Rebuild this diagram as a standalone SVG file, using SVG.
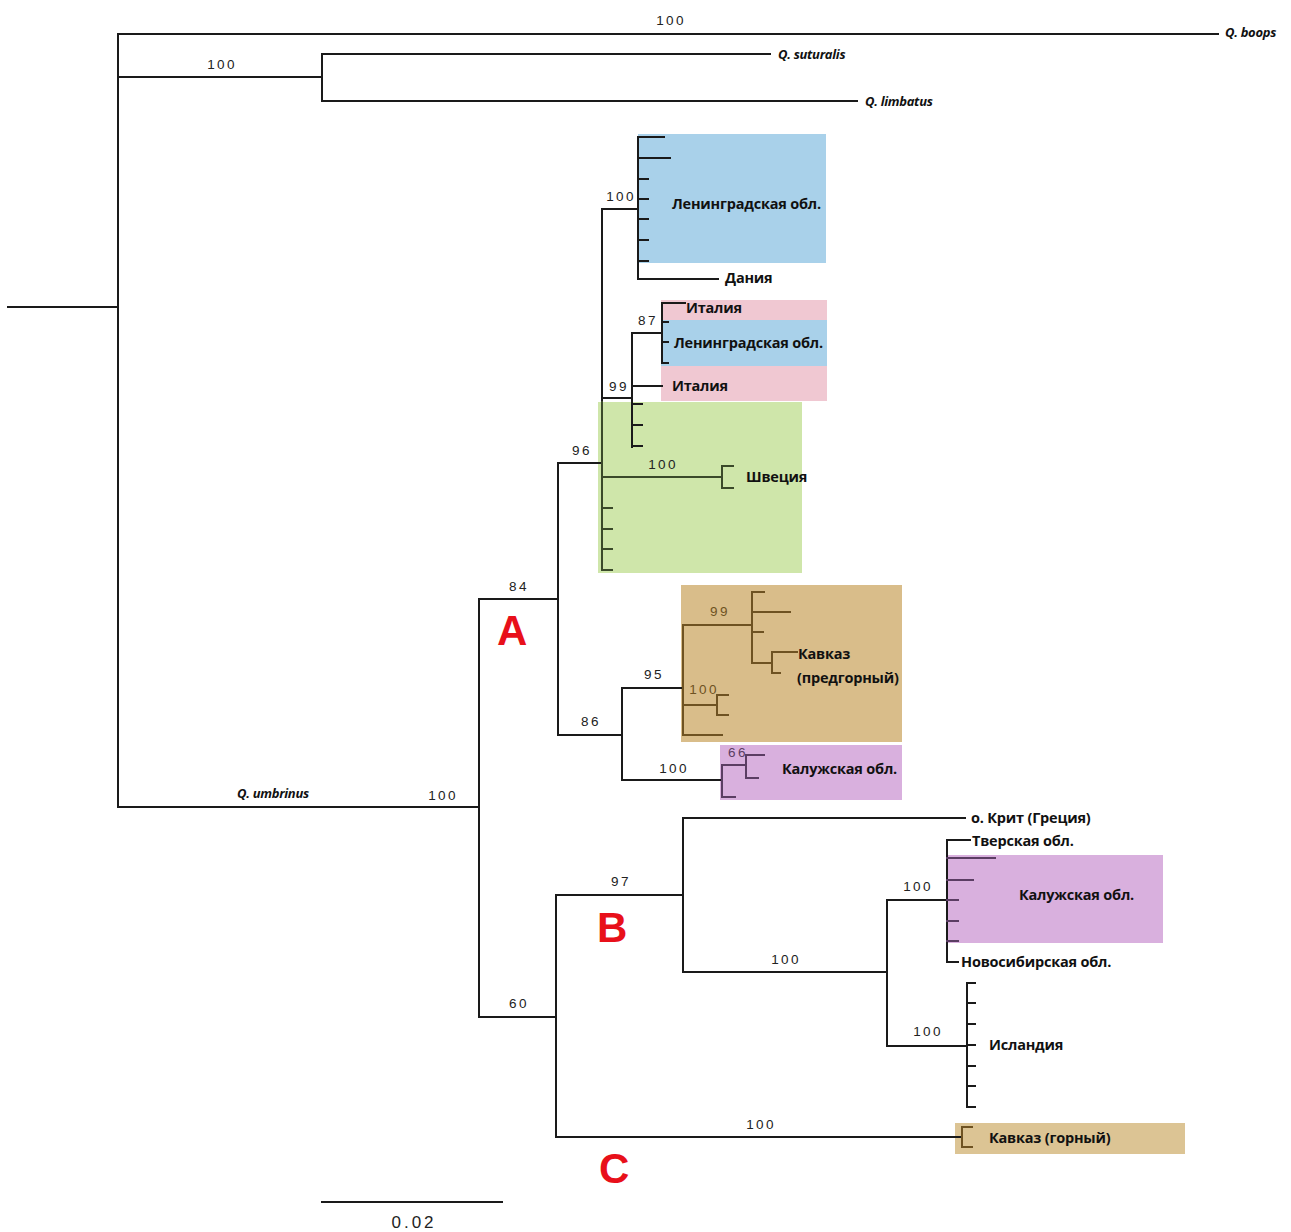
<svg xmlns="http://www.w3.org/2000/svg" width="1291" height="1232" viewBox="0 0 1291 1232">
<style>
.e{fill:none;stroke:#1a1a1a;stroke-width:2;stroke-linecap:square}
.eb{stroke:#6e5222}
.ep{stroke:#5b3d63}
.eg{stroke:#3b4a2a}
.bs{font-family:"Liberation Sans",Arial,sans-serif;font-size:13.5px;letter-spacing:2.4px;fill:#222;text-anchor:middle}
.lb{font-family:"Open Sans","Liberation Sans",sans-serif;font-size:14.5px;font-weight:700;fill:#111;letter-spacing:-0.2px}
.sp{font-family:"Open Sans","Liberation Sans",sans-serif;font-size:13px;font-weight:700;font-style:italic;fill:#111;letter-spacing:-0.3px}
.cl{font-family:"Liberation Sans",Arial,sans-serif;font-size:42px;font-weight:700;fill:#e8101a}
</style>
<rect width="1291" height="1232" fill="#fff"/>
<g id="boxes">
<rect x="638" y="134" width="188" height="129" fill="#a9d1ea"/>
<rect x="661" y="300" width="166" height="20" fill="#f0c8d2"/>
<rect x="661" y="320" width="166" height="46" fill="#a9d1ea"/>
<rect x="661" y="366" width="166" height="35" fill="#f0c8d2"/>
<rect x="598" y="402" width="204" height="171" fill="#cfe6aa"/>
<rect x="681" y="585" width="221" height="157" fill="#d9bd8a"/>
<rect x="720" y="745" width="182" height="55" fill="#d9b0de"/>
<rect x="947" y="855" width="216" height="88" fill="#d9b0de"/>
<rect x="955" y="1123" width="230" height="31" fill="#dcc494"/>
</g>
<g id="connectors">
<path class="e" d="M8 307H118M118 34V807M118 34H1218M118 77H322M322 54V101M322 54H770M322 101H857"/>
<path class="e" d="M118 807H479M479 599V1017M479 599H558M558 463V735M558 463H602"/>
<path class="e" d="M602 209V402M602 209H638M638 137V279M638 137H664M638 158H670M638 179H648M638 199H648M638 219H648M638 240H648M638 261H648M638 279H718"/>
<path class="e" d="M602 398H632M632 333V447M632 333H662M662 303V363M662 303H685M662 322H668M662 342H668M662 363H668M632 386H662M632 404H642M632 425H642M632 446H642"/>
<path class="e eg" d="M602 402V570M602 477H722M722 466V488M722 466H733M722 488H733M602 508H612M602 529H612M602 549H612M602 570H612"/>
<path class="e" d="M558 735H622M622 688V780M622 688H683M622 780H722"/>
<path class="e eb" d="M683 625V735M683 625H752M752 592V663M752 592H764M752 612H790M752 632H763M752 663H772M772 652V673M772 652H797M772 673H780M683 705H717M717 695V715M717 695H728M717 715H728M683 735H722"/>
<path class="e ep" d="M722 765V797M722 765H746M746 755V778M746 755H764M746 778H758M722 797H735"/>
<path class="e" d="M479 1017H556M556 895V1137M556 895H683M683 818V972M683 818H965M683 972H887M887 900V1046M887 900H947M947 840V962M947 840H970M947 962H958M887 1046H967M967 983V1107M967 983H975M967 1003H975M967 1024H975M967 1045H975M967 1066H975M967 1086H975M967 1107H975"/>
<path class="e ep" d="M947 858H995M947 880H973M947 900H958M947 921H958M947 941H958"/>
<path class="e" d="M556 1137H962"/>
<path class="e eb" d="M962 1127V1147M962 1127H972M962 1147H972"/>
<path class="e" d="M322 1202H502"/>
</g>
<g id="support">
<text class="bs" x="671" y="25">100</text>
<text class="bs" x="222" y="69">100</text>
<text class="bs" x="621" y="201">100</text>
<text class="bs" x="648" y="325">87</text>
<text class="bs" x="619" y="391">99</text>
<text class="bs" x="582" y="455">96</text>
<text class="bs" x="663" y="469">100</text>
<text class="bs" x="519" y="591">84</text>
<text class="bs" x="720" y="616" style="fill:#6e5222">99</text>
<text class="bs" x="654" y="679">95</text>
<text class="bs" x="704" y="694" style="fill:#6e5222">100</text>
<text class="bs" x="591" y="726">86</text>
<text class="bs" x="738" y="757" style="fill:#5b3d63">66</text>
<text class="bs" x="674" y="773">100</text>
<text class="bs" x="443" y="800">100</text>
<text class="bs" x="621" y="886">97</text>
<text class="bs" x="918" y="891">100</text>
<text class="bs" x="786" y="964">100</text>
<text class="bs" x="519" y="1008">60</text>
<text class="bs" x="928" y="1036">100</text>
<text class="bs" x="761" y="1129">100</text>
<text class="bs" x="414" y="1228" style="font-size:17px;letter-spacing:3px">0.02</text>
</g>
<g id="taxa">
<text class="sp" x="1225" y="37">Q. boops</text>
<text class="sp" x="778" y="59">Q. suturalis</text>
<text class="sp" x="865" y="106">Q. limbatus</text>
<text class="sp" x="237" y="798">Q. umbrinus</text>
<text class="lb" x="672" y="209">Ленинградская обл.</text>
<text class="lb" x="725" y="283">Дания</text>
<text class="lb" x="686" y="313">Италия</text>
<text class="lb" x="674" y="348">Ленинградская обл.</text>
<text class="lb" x="672" y="391">Италия</text>
<text class="lb" x="746" y="482">Швеция</text>
<text class="lb" x="798" y="659">Кавказ</text>
<text class="lb" x="797" y="683">(предгорный)</text>
<text class="lb" x="782" y="774">Калужская обл.</text>
<text class="lb" x="971" y="823">о. Крит (Греция)</text>
<text class="lb" x="972" y="846">Тверская обл.</text>
<text class="lb" x="1019" y="900">Калужская обл.</text>
<text class="lb" x="961" y="967">Новосибирская обл.</text>
<text class="lb" x="989" y="1050">Исландия</text>
<text class="lb" x="989" y="1143">Кавказ (горный)</text>
</g>
<g id="clades">
<text class="cl" x="497" y="645">A</text>
<text class="cl" x="597" y="942">B</text>
<text class="cl" x="599" y="1183">C</text>
</g>
</svg>
